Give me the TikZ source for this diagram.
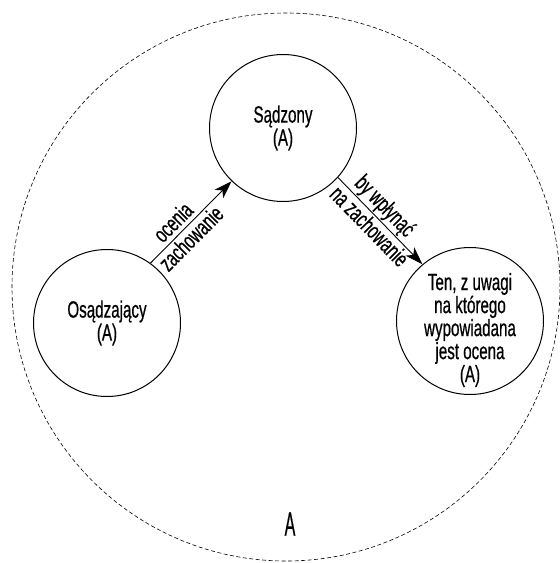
\documentclass[tikz,border=0pt]{standalone}
\usepackage{fontspec}
\setmainfont{Liberation Sans}[FakeStretch=0.645, FakeBold=0.6]
\newfontfamily\tallfont{Liberation Sans}[FakeStretch=0.48, FakeBold=0.4]
\usetikzlibrary{arrows.meta}

\begin{document}
\begin{tikzpicture}[x=1pt,y=-1pt,
  entity/.style={circle, draw, line width=1pt, minimum size=147pt, inner sep=0pt,
    align=center, font=\fontsize{23.5}{23}\selectfont},
  txt/.style={align=center, inner sep=0pt, font=\fontsize{23.5}{23}\selectfont},
  flow/.style={-{Stealth[length=18pt,width=12pt,inset=5pt]}, line width=0.9pt},
  tag/.style={font=\fontsize{23.5}{23}\selectfont, sloped, inner sep=0pt},
  world/.style={draw, line width=0.6pt, dash pattern=on 4pt off 2.5pt}
]
\useasboundingbox (0,0) rectangle (560,563);

% enclosing domain
\draw[world] (286,287) circle[radius=274pt];
\node[font=\tallfont\fontsize{33.5}{33.5}\selectfont, inner sep=0pt] (domain) at (290,524) {A};

% participants
\node[entity] (sad) at (283,128) {Sądzony\\(A)};
\node[entity] (osa) at (107,323) {Osądzający\\(A)};
\node[entity] (ten) at (470,321) {};
\node[txt] (tentext) at (470,330) {Ten, z uwagi\\na którego\\wypowiadana\\jest ocena\\(A)};

% relations
\draw[flow] (osa.54) -- (sad.226)
  node[tag, pos=0.39, above=4pt] (l1a) {ocenia}
  node[tag, pos=0.40, below=2pt] (l1b) {zachowanie};
\draw[flow] (sad.-42) -- (ten.130)
  node[tag, pos=0.44, above=1pt] (l2a) {by wpłynąć}
  node[tag, pos=0.47, below=2pt] (l2b) {na zachowanie};
\end{tikzpicture}
\end{document}
